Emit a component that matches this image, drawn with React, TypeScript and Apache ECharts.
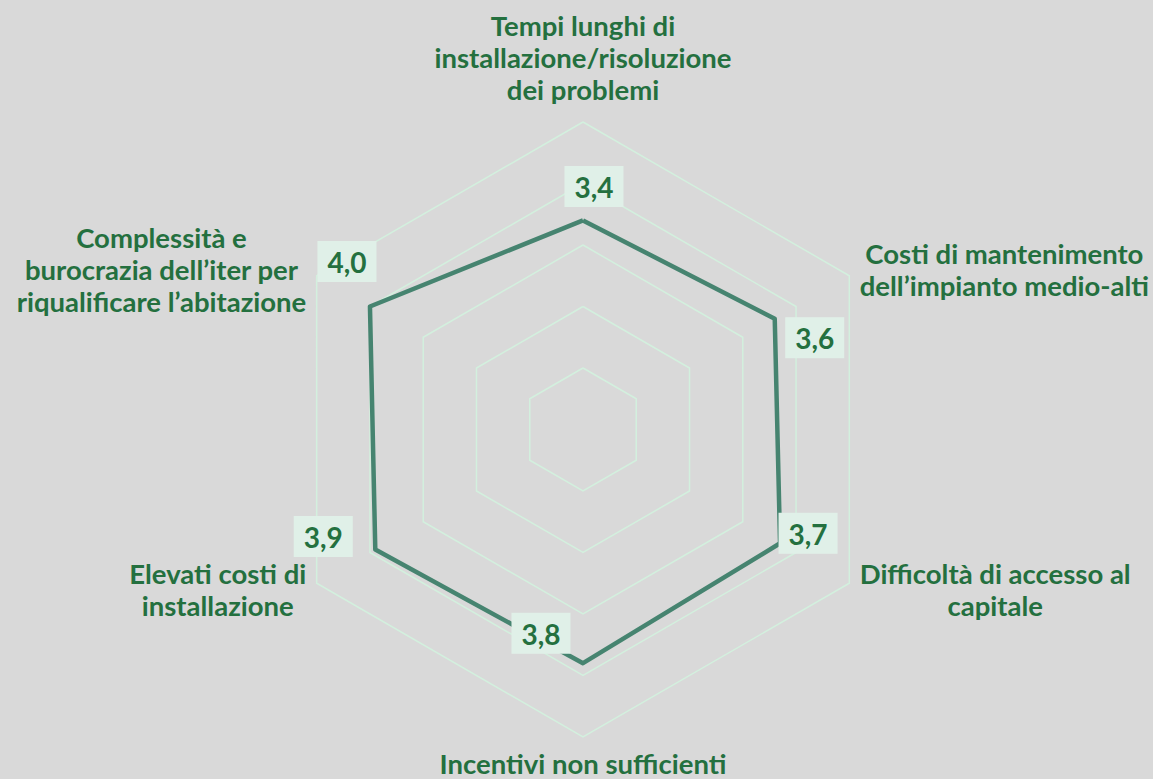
import React, { useEffect, useRef } from "react";
import * as echarts from "echarts";

// ---- data ----
const categories = [
  "Tempi lunghi di\ninstallazione/risoluzione\ndei problemi",
  "Complessità e\nburocrazia dell’iter per\nriqualificare l’abitazione",
  "Elevati costi di\ninstallazione",
  "Incentivi non sufficienti",
  "Difficoltà di accesso al\ncapitale",
  "Costi di mantenimento\ndell’impianto medio-alti",
];
const values = [3.4, 4.0, 3.9, 3.8, 3.7, 3.6];
const axisMax = 5;

// ---- styles ----
const TEXT_COLOR = "#24703f";
const LINE_COLOR = "#468470";
const GRID_COLOR = "#d3f0de";
const LABEL_BG = "#e0f0e8";
const BG = "#d9d9d9";
const FONT = "Lato";
const NAME_SIZE = 27.5;
const NAME_LH = 32;
// label offsets (px) relative to each vertex, in indicator order
const LABEL_OFFSETS = [
  [11, -34],
  [-23, -45],
  [-52, -13],
  [-42, -30],
  [28, -10],
  [40, 19],
];

const fmt = (v: number) => v.toFixed(1).replace(".", ",");

const nameStyle = {
  align: "center",
  color: TEXT_COLOR,
  fontFamily: FONT,
  fontWeight: "bold",
  fontSize: NAME_SIZE,
};

export default function App() {
  const ref = useRef<HTMLDivElement>(null);
  useEffect(() => {
    if (!ref.current) return;
    const chart = echarts.init(ref.current, undefined, { renderer: "svg" });
    chart.setOption({
      animation: false,
      backgroundColor: BG,
      radar: {
        center: [583, 429.5],
        radius: 307.5,
        startAngle: 90,
        splitNumber: 5,
        shape: "polygon",
        nameGap: 12,
        indicator: categories.map((name) => ({ name, min: 0, max: axisMax })),
        axisName: {
          color: TEXT_COLOR,
          fontFamily: FONT,
          fontWeight: "bold",
          fontSize: NAME_SIZE,
          lineHeight: NAME_LH,
          formatter: (name: string) => {
            if (name === categories[3]) {
              // bottom name: compact box so it stays inside the canvas
              return `{sp2| }\n{bt|${name}}`;
            }
            const body = name
              .split("\n")
              .map((l) => `{c|${l}}`)
              .join("\n");
            // extra spacing below the top name
            return name === categories[0] ? body + "\n{sp| }" : body;
          },
          rich: {
            c: { ...nameStyle, lineHeight: NAME_LH },
            bt: { ...nameStyle, lineHeight: 24 },
            sp: { fontSize: 1, lineHeight: 5 },
            sp2: { fontSize: 1, lineHeight: 2 },
          },
        },
        splitLine: { lineStyle: { color: GRID_COLOR, width: 1.5 } },
        splitArea: { show: false },
        axisLine: { show: false },
        axisTick: { show: false },
        axisLabel: { show: false },
      },
      series: [
        {
          type: "radar",
          z: 2,
          silent: true,
          symbol: "none",
          lineStyle: { color: LINE_COLOR, width: 4.5 },
          data: [{ value: values }],
        },
        {
          type: "radar",
          z: 5,
          silent: true,
          symbol: "circle",
          symbolSize: 1,
          itemStyle: { color: "rgba(0,0,0,0)" },
          lineStyle: { opacity: 0, width: 0 },
          data: values.map((_, k) => ({
            value: values,
            label: {
              show: true,
              position: "inside",
              offset: LABEL_OFFSETS[k],
              formatter: (p: any) =>
                p.dimensionIndex === k ? `{b|${fmt(Number(p.value))}}` : "",
              rich: {
                b: {
                  backgroundColor: LABEL_BG,
                  padding: [7, 10, 6, 10],
                  color: TEXT_COLOR,
                  fontFamily: FONT,
                  fontWeight: "bold",
                  fontSize: 28,
                  lineHeight: 30,
                },
              },
            },
          })),
        },
      ],
    });
    return () => chart.dispose();
  }, []);
  return (
    <div
      ref={ref}
      style={{
        position: "fixed",
        left: 0,
        top: 0,
        width: 1153,
        height: 779,
        background: BG,
      }}
    />
  );
}
